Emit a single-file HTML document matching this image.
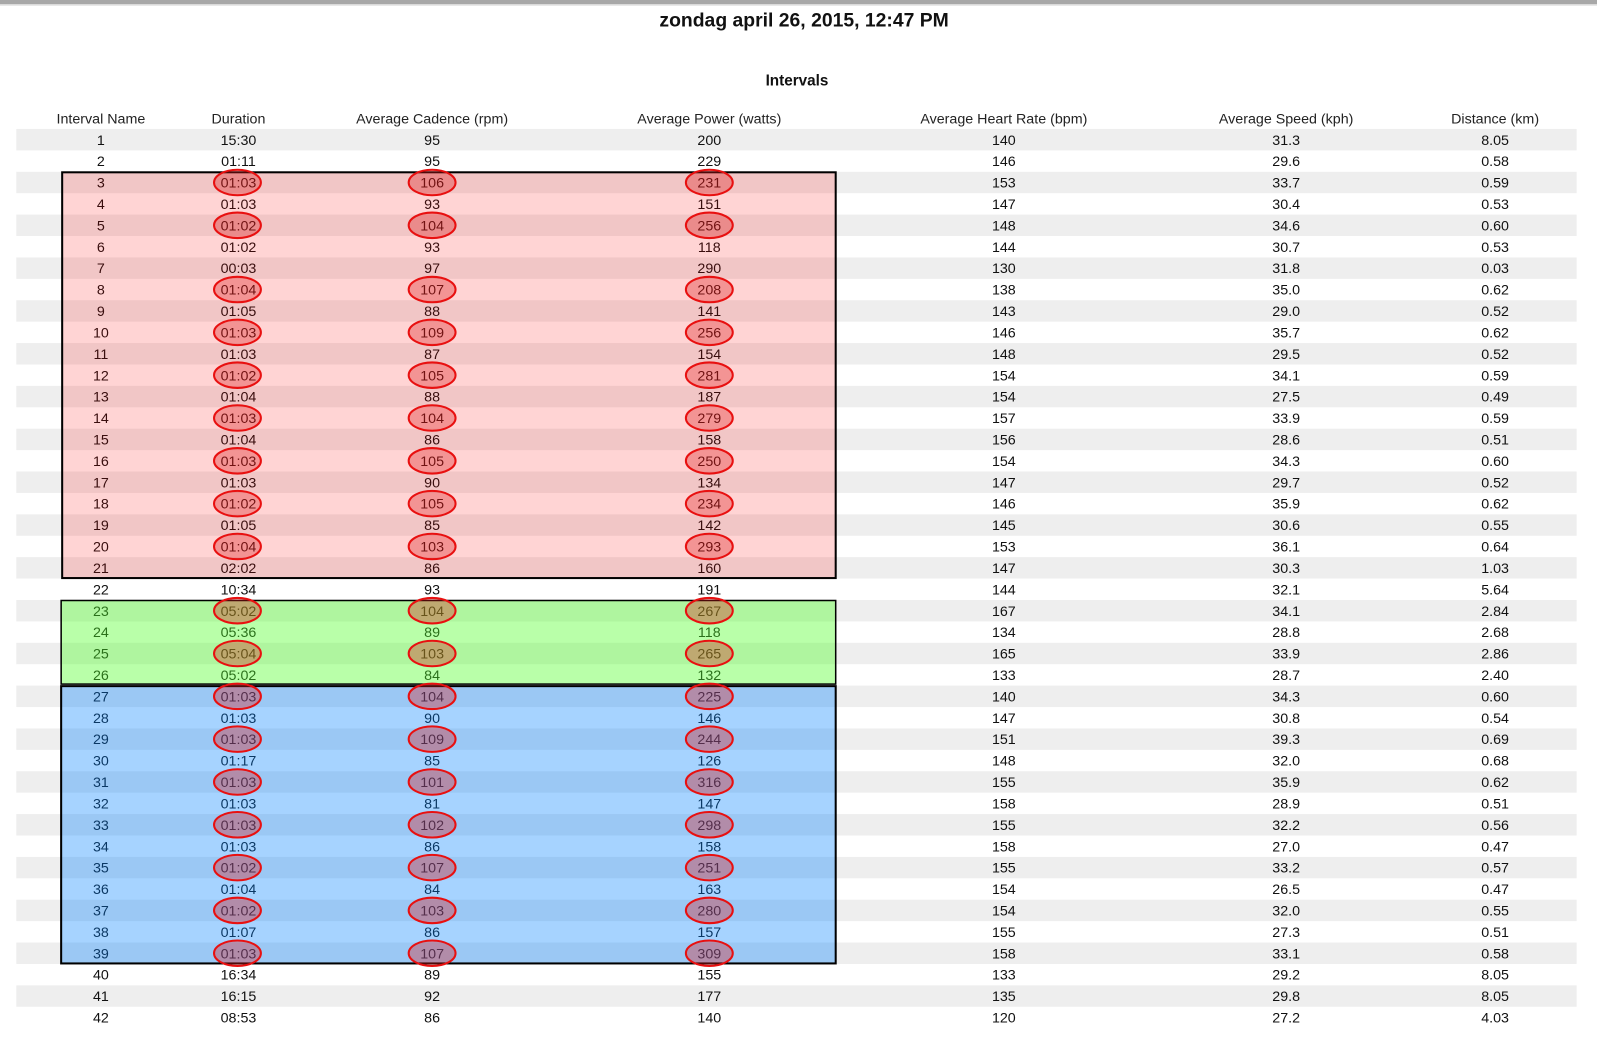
<!DOCTYPE html>
<html><head><meta charset="utf-8"><style>
html,body{margin:0;padding:0;background:#fff;}
svg{display:block;}
text{font-family:"Liberation Sans",sans-serif;}
</style></head><body>
<svg width="1597" height="1045" viewBox="0 0 1567 1025" preserveAspectRatio="none" xmlns="http://www.w3.org/2000/svg">
<rect x="0" y="0" width="1567" height="4" fill="#a8a8a8"/>
<rect x="0" y="4" width="1567" height="1.5" fill="#d8d8d8"/>
<text x="789" y="26" text-anchor="middle" font-size="19" font-weight="bold" fill="#111">zondag april 26, 2015, 12:47 PM</text>
<text x="782" y="84" text-anchor="middle" font-size="15" font-weight="bold" fill="#111">Intervals</text>
<g font-size="14" fill="#222" text-anchor="middle">
<text x="99" y="121">Interval Name</text><text x="234" y="121">Duration</text><text x="424" y="121">Average Cadence (rpm)</text><text x="696" y="121">Average Power (watts)</text><text x="985" y="121">Average Heart Rate (bpm)</text><text x="1262" y="121">Average Speed (kph)</text><text x="1467" y="121">Distance (km)</text>
</g>
<g id="rows" font-size="14" fill="#111" text-anchor="middle"></g>
<rect x="61" y="169" width="759" height="398" fill="rgba(255,0,0,0.17)" stroke="#000" stroke-width="2"/>
<rect x="60" y="589" width="760" height="82" fill="rgba(80,255,40,0.4)" stroke="#000" stroke-width="1.5"/>
<rect x="60" y="673" width="760" height="272" fill="rgba(0,130,255,0.35)" stroke="#000" stroke-width="2"/>
<g id="ell" fill="rgba(220,30,30,0.35)" stroke="#e81010" stroke-width="2"></g>
</svg>
<script>
var d=[
["1","15:30","95","200","140","31.3","8.05"],["2","01:11","95","229","146","29.6","0.58"],["3","01:03","106","231","153","33.7","0.59"],["4","01:03","93","151","147","30.4","0.53"],["5","01:02","104","256","148","34.6","0.60"],["6","01:02","93","118","144","30.7","0.53"],["7","00:03","97","290","130","31.8","0.03"],["8","01:04","107","208","138","35.0","0.62"],["9","01:05","88","141","143","29.0","0.52"],["10","01:03","109","256","146","35.7","0.62"],["11","01:03","87","154","148","29.5","0.52"],["12","01:02","105","281","154","34.1","0.59"],["13","01:04","88","187","154","27.5","0.49"],["14","01:03","104","279","157","33.9","0.59"],["15","01:04","86","158","156","28.6","0.51"],["16","01:03","105","250","154","34.3","0.60"],["17","01:03","90","134","147","29.7","0.52"],["18","01:02","105","234","146","35.9","0.62"],["19","01:05","85","142","145","30.6","0.55"],["20","01:04","103","293","153","36.1","0.64"],["21","02:02","86","160","147","30.3","1.03"],["22","10:34","93","191","144","32.1","5.64"],["23","05:02","104","267","167","34.1","2.84"],["24","05:36","89","118","134","28.8","2.68"],["25","05:04","103","265","165","33.9","2.86"],["26","05:02","84","132","133","28.7","2.40"],["27","01:03","104","225","140","34.3","0.60"],["28","01:03","90","146","147","30.8","0.54"],["29","01:03","109","244","151","39.3","0.69"],["30","01:17","85","126","148","32.0","0.68"],["31","01:03","101","316","155","35.9","0.62"],["32","01:03","81","147","158","28.9","0.51"],["33","01:03","102","298","155","32.2","0.56"],["34","01:03","86","158","158","27.0","0.47"],["35","01:02","107","251","155","33.2","0.57"],["36","01:04","84","163","154","26.5","0.47"],["37","01:02","103","280","154","32.0","0.55"],["38","01:07","86","157","155","27.3","0.51"],["39","01:03","107","309","158","33.1","0.58"],["40","16:34","89","155","133","29.2","8.05"],["41","16:15","92","177","135","29.8","8.05"],["42","08:53","86","140","120","27.2","4.03"]];
var xs=[99,234,424,696,985,1262,1467],ns="http://www.w3.org/2000/svg";
var g=document.getElementById("rows"),e=document.getElementById("ell");
var circ=[3,5,8,10,12,14,16,18,20,23,25,27,29,31,33,35,37,39];
d.forEach(function(r,i){var cy=137+21*i;
 if(i%2==0){var b=document.createElementNS(ns,"rect");b.setAttribute("x",16);b.setAttribute("y",cy-10.5);b.setAttribute("width",1531);b.setAttribute("height",21);b.setAttribute("fill","#eeeeee");g.appendChild(b);}
 r.forEach(function(v,j){var t=document.createElementNS(ns,"text");t.setAttribute("x",xs[j]);t.setAttribute("y",cy+5);t.textContent=v;g.appendChild(t);});
 if(circ.indexOf(i+1)>=0){[[233,23],[424,23],[696,23]].forEach(function(c){var el=document.createElementNS(ns,"ellipse");el.setAttribute("cx",c[0]);el.setAttribute("cy",cy);el.setAttribute("rx",c[1]);el.setAttribute("ry",12.5);e.appendChild(el);});}
});
</script>
</body></html>
